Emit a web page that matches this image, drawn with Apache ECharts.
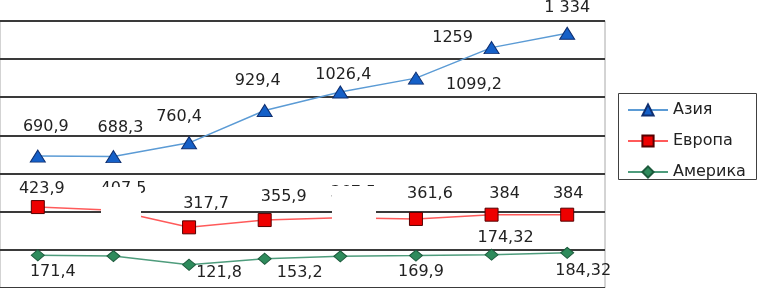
<!DOCTYPE html>
<html>
<head>
<meta charset="utf-8">
<script src="https://cdn.jsdelivr.net/npm/echarts@6/dist/echarts.min.js"></script>
<style>
html,body{margin:0;padding:0;background:#fff;}
#c{width:761px;height:288px;}
</style>
</head>
<body>
<div id="c"></div>
<script>
// ---- data ----
const categories = ['1', '2', '3', '4', '5', '6', '7', '8'];
const asia = [690.9, 688.3, 760.4, 929.4, 1026.4, 1099.2, 1259, 1334];
const europe = [423.9, 407.5, 317.7, 355.9, 367.5, 361.6, 384, 384];
const america = [171.4, 167, 121.8, 153.2, 166, 169.9, 174.32, 184.32];
const asiaLabels = ['690,9', '688,3', '760,4', '929,4', '1026,4', '1099,2', '1259', '1 334'];
const europeLabels = ['423,9', '407,5', '317,7', '355,9', '367,5', '361,6', '384', '384'];
const americaLabels = ['171,4', '167', '121,8', '153,2', '166', '169,9', '174,32', '184,32'];
const yMin = 0, yMax = 1400, yStep = 200;

// ---- label placement (style) ----
const asiaOffsets = [[8,-29],[7,-29],[-10,-26],[-7,-30],[3,-17],[58,7],[-39,-10],[0,-25]];
const europeOffsets = [[4,-18],[10,-21],[17,-23],[19,-23],[13,-25],[14,-25],[13,-21],[1,-21]];
const americaOffsets = [[15,17],[8,-19],[30,8],[35,14],[10,-20],[5,16],[14,-17],[16,18]];

const FONT = 'DejaVu Sans';
function build(values, labels, offsets) {
  return values.map((v, i) => ({
    value: v,
    label: { formatter: labels[i], offset: offsets[i] }
  }));
}
function series(name, values, labels, offsets, symbol, size, lineColor, fill, border) {
  return {
    name, type: 'line', data: build(values, labels, offsets),
    symbol, symbolSize: size,
    lineStyle: { color: lineColor, width: 1.5 },
    itemStyle: { color: fill, borderColor: border, borderWidth: 1 },
    label: {
      show: true, position: 'inside', align: 'center', verticalAlign: 'middle',
      fontFamily: FONT, fontSize: 16, color: '#222'
    },
    emphasis: { disabled: true }
  };
}

const chart = echarts.init(document.getElementById('c'), null, { renderer: 'canvas' });
chart.setOption({
  animation: false,
  backgroundColor: '#fff',
  grid: {
    left: 0, top: 20.7, width: 605, height: 268.8,
    show: true, borderColor: '#a8a8a8', borderWidth: 1, backgroundColor: 'transparent'
  },
  xAxis: {
    type: 'category', data: categories, boundaryGap: true,
    axisLine: { show: false }, axisTick: { show: false }, axisLabel: { show: false }
  },
  yAxis: {
    type: 'value', min: yMin, max: yMax, interval: yStep,
    axisLine: { show: false }, axisTick: { show: false }, axisLabel: { show: false },
    splitLine: { show: true, lineStyle: { color: '#3a3a3a', width: 2 } }
  },
  legend: {
    orient: 'vertical', left: 618, top: 93, padding: [9, 5, 5, 9],
    itemWidth: 40, itemHeight: 14, itemGap: 15,
    textStyle: { fontFamily: FONT, fontSize: 16, color: '#222' },
    data: ['Азия', 'Европа', 'Америка']
  },
  series: [
    series('Азия', asia, asiaLabels, asiaOffsets, 'triangle', [15, 12], '#5b9bd5', '#1560c8', '#0f2f70'),
    series('Европа', europe, europeLabels, europeOffsets, 'rect', [13, 13], '#ff5a5a', '#ee0000', '#550000'),
    series('Америка', america, americaLabels, americaOffsets, 'diamond', [13, 11], '#4e9c7c', '#2e8b5c', '#1c5a3c')
  ],
  graphic: [
    { type: 'rect', zlevel: 5, z: 100, shape: { x: 101, y: 187, width: 40, height: 58 }, style: { fill: '#fff' } },
    { type: 'rect', zlevel: 5, z: 100, shape: { x: 332, y: 186, width: 44, height: 59 }, style: { fill: '#fff' } },
    { type: 'rect', zlevel: 5, z: 100, shape: { x: 618.5, y: 93.5, width: 138, height: 86 }, style: { fill: 'none', stroke: '#404040', lineWidth: 1 } }
  ]
});
</script>
</body>
</html>
